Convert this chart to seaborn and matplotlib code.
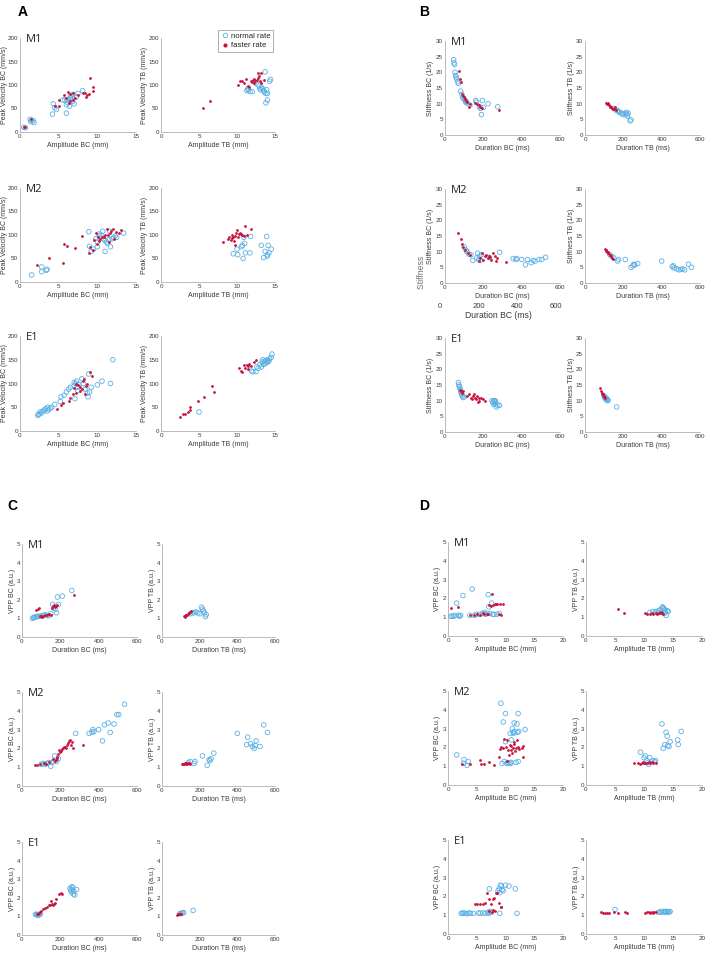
import matplotlib
matplotlib.use("Agg")
import matplotlib.pyplot as plt
from matplotlib.lines import Line2D
from matplotlib.transforms import Bbox, TransformedBbox
import seaborn as sns
import pandas as pd

# ---------------- data ----------------
# A: peak velocity vs amplitude
a_m1_bc_norm = [(0.5,10),(0.7,9),(1.3,27),(1.4,22),(1.5,25),(1.7,24),(1.8,20),(4.2,38),(4.3,60),(4.5,52),(4.7,48),(5.5,68),(5.8,68),(6.0,40),(6.0,58),(6.1,68),(6.3,70),(6.4,55),(6.5,72),(6.6,78),(6.8,65),(6.9,80),(7.0,60),(7.3,75),(7.5,82),(8.1,88),(6.2,62),(6.7,74)]
a_m1_bc_fast = [(0.6,11),(0.5,10),(1.4,28),(4.5,55),(5.0,68),(5.1,55),(5.7,78),(6.0,72),(6.2,85),(6.5,80),(6.5,65),(6.9,84),(7.1,72),(7.5,78),(8.2,84),(8.4,82),(8.6,78),(8.9,80),(9.0,114),(9.5,95),(9.5,88),(8.5,75),(6.8,68),(6.3,62)]
a_m1_tb_norm = [(11.3,88),(11.5,90),(11.7,86),(12.0,86),(12.8,100),(13.0,92),(13.1,90),(13.2,95),(13.4,92),(13.5,88),(13.6,85),(13.7,128),(13.8,82),(13.9,90),(13.8,62),(14.0,68),(14.0,82),(14.3,108),(14.4,112),(12.5,103),(11.4,92)]
a_m1_tb_fast = [(5.5,51),(6.5,67),(10.1,100),(10.4,108),(10.7,108),(10.9,105),(11.2,113),(11.5,98),(11.6,95),(11.9,108),(12.1,110),(12.2,105),(12.3,112),(12.6,110),(12.7,115),(12.8,126),(12.9,120),(13.1,126),(13.0,108),(13.2,104),(13.5,110),(12.0,106),(12.4,108)]
a_m2_bc_norm = [(1.5,15),(2.8,22),(2.8,32),(3.4,25),(3.5,27),(8.9,107),(9.0,76),(9.2,65),(9.5,70),(9.8,92),(10.0,85),(10.0,75),(10.3,98),(10.5,100),(10.7,108),(10.8,92),(11.0,65),(11.2,85),(11.3,82),(11.5,90),(11.6,108),(11.7,75),(11.9,92),(12.1,95),(12.3,98),(12.5,95),(13.4,104),(11.0,88),(10.2,102)]
a_m2_bc_fast = [(2.2,36),(3.8,52),(5.5,40),(5.7,80),(6.1,77),(7.1,72),(8.0,98),(8.9,62),(9.0,75),(9.5,68),(9.6,90),(9.8,105),(10.0,80),(10.2,88),(10.4,92),(10.6,96),(10.8,95),(11.0,100),(11.3,112),(11.4,100),(11.6,105),(11.8,108),(12.0,112),(12.4,107),(12.8,105),(13.1,110),(12.2,92),(11.5,85),(10.1,95)]
a_m2_tb_norm = [(9.5,60),(10.0,70),(10.1,58),(10.6,75),(10.7,78),(10.8,50),(10.9,95),(11.0,82),(11.1,62),(11.7,62),(11.8,97),(13.2,78),(13.5,52),(13.7,65),(13.9,97),(14.0,58),(14.1,78),(14.2,62),(14.5,70),(14.0,55)]
a_m2_tb_fast = [(8.2,85),(8.8,92),(9.0,95),(9.2,90),(9.4,100),(9.5,96),(9.6,88),(9.7,78),(9.8,98),(9.9,105),(10.0,110),(10.2,102),(10.4,104),(10.5,102),(10.7,100),(10.9,98),(11.1,120),(11.3,100),(11.8,112),(9.3,94),(10.1,96)]
a_e1_bc_norm = [(2.3,33),(2.5,36),(2.6,40),(2.8,38),(3.0,42),(3.2,44),(3.3,47),(3.6,50),(3.7,45),(3.9,48),(4.1,50),(4.5,56),(5.2,62),(5.3,72),(5.7,75),(6.0,82),(6.3,88),(6.5,92),(7.0,102),(7.0,95),(7.1,68),(7.2,100),(7.3,105),(7.4,92),(7.5,85),(8.0,110),(8.2,100),(8.4,88),(8.8,72),(8.9,120),(9.0,82),(9.2,92),(10.0,97),(10.6,105),(11.7,100),(12.0,150),(2.4,35),(3.5,42),(7.6,98),(8.7,80)]
a_e1_bc_fast = [(4.8,46),(5.3,55),(5.6,60),(6.3,63),(6.5,70),(6.8,78),(7.0,90),(7.3,80),(7.5,96),(7.7,92),(7.8,85),(8.0,88),(8.1,105),(8.3,110),(8.5,95),(8.7,100),(9.0,125),(9.3,115),(8.4,78),(7.2,98)]
a_e1_tb_norm = [(5.0,40),(11.9,126),(12.1,125),(12.5,125),(12.6,135),(12.8,132),(13.0,140),(13.2,135),(13.3,145),(13.4,150),(13.5,140),(13.6,147),(13.8,148),(13.9,144),(14.0,150),(14.1,146),(14.3,152),(14.5,155),(14.6,162),(13.7,142),(14.2,148)]
a_e1_tb_fast = [(2.5,30),(2.9,35),(3.1,35),(3.6,40),(3.8,45),(3.8,50),(4.9,64),(5.6,72),(6.7,95),(7.0,83),(10.2,132),(10.5,127),(10.7,125),(10.9,138),(11.1,132),(11.3,140),(11.4,130),(11.6,142),(11.8,137),(12.2,145),(12.5,150),(11.5,136)]

# B: stiffness vs duration
b_m1_bc_norm = [(45,24),(47,23),(50,22.5),(52,20),(55,19),(58,18.5),(60,18),(65,17),(70,16.5),(82,14),(88,13),(92,12),(95,11.8),(100,11.5),(105,11),(108,10.5),(110,10.8),(115,10.2),(130,9.5),(160,11),(165,10.5),(180,9),(185,8.5),(190,6.5),(195,11),(200,8.8),(225,10),(275,9)]
b_m1_bc_fast = [(73,20.5),(80,18),(85,17),(90,13),(95,12.5),(100,12),(105,11.5),(110,11),(115,10.5),(130,9.8),(155,10.3),(165,10),(175,9.5),(185,9),(195,8.5),(280,8),(125,9)]
b_m1_tb_norm = [(150,8.5),(160,8),(170,7.8),(175,7.5),(180,7.2),(190,7),(200,6.5),(210,6.8),(215,7.2),(220,6.5),(222,6),(225,7),(235,4.5),(240,4.8),(195,6.8)]
b_m1_tb_fast = [(110,10.3),(115,10),(120,9.8),(125,9.5),(130,9),(135,8.8),(140,8.5),(145,8.3),(150,8.2),(155,9),(160,8),(118,10.2),(128,9.3)]
b_m2_bc_norm = [(100,11.5),(110,10.5),(115,10),(125,9.2),(135,9),(145,7.2),(165,8),(170,9.5),(175,7.5),(180,8.5),(185,7.2),(190,9),(230,8.2),(285,9.8),(355,7.8),(370,7.5),(375,7.8),(400,7.5),(420,5.8),(430,7.5),(450,6.5),(470,7),(490,7.5),(505,7.5),(525,8.2),(460,7.2)]
b_m2_bc_fast = [(70,16),(82,14),(90,12.5),(95,11.5),(105,10.5),(120,9.5),(130,9),(175,7),(185,8),(195,9.5),(210,8.5),(215,9),(225,8),(230,8.5),(240,7.5),(250,9.5),(260,8.5),(265,7),(270,8),(320,6.8),(200,7.5),(235,8.2)]
b_m2_tb_norm = [(130,9),(140,8.5),(150,8),(170,7),(175,7.5),(210,7.5),(240,5),(250,5.5),(255,6),(260,5.8),(275,6.2),(400,7),(455,5.2),(460,5.5),(465,4.8),(480,4.5),(490,4.2),(500,4.3),(510,4.5),(520,4.2),(540,6),(555,5)]
b_m2_tb_fast = [(105,10.8),(108,10.5),(110,10.5),(112,10.2),(115,10),(118,9.8),(120,9.5),(125,9.2),(130,9),(135,8.5),(140,8),(145,7.8),(122,9.6),(132,8.8)]
b_e1_bc_norm = [(70,15.8),(72,15),(75,14.5),(78,14),(80,13.5),(82,13),(85,12.5),(88,12),(90,11.5),(95,11),(100,11.2),(245,10),(250,9.5),(255,10),(258,9.8),(260,9),(265,9.5),(268,8),(275,8.5),(285,8.5),(255,8.8),(262,10)]
b_e1_bc_fast = [(80,13.5),(85,13),(90,12.5),(95,13),(115,11.5),(125,12),(135,11),(145,11.5),(150,12),(155,11),(160,10.5),(165,11.5),(170,9.5),(175,10),(180,11),(190,11),(200,10.5),(210,10),(140,10.5)]
b_e1_tb_norm = [(100,11.5),(102,11),(105,11),(108,10.5),(110,10.8),(112,10.3),(115,10.5),(118,10),(120,10.2),(165,8)]
b_e1_tb_fast = [(80,14),(85,13),(88,12.5),(90,12.2),(92,12),(95,11.8),(98,11.5),(100,11.2),(103,11)]

# C: VPP vs duration
c_m1_bc_norm = [(55,1.0),(60,1.05),(65,1.05),(70,1.08),(75,1.1),(80,1.1),(90,1.12),(100,1.12),(110,1.15),(120,1.2),(130,1.15),(140,1.15),(150,1.25),(160,1.75),(165,1.55),(175,1.5),(180,1.3),(185,2.15),(190,1.75),(210,2.2),(260,2.5)]
c_m1_bc_fast = [(75,1.45),(85,1.5),(90,1.55),(95,1.15),(100,1.15),(110,1.15),(120,1.2),(130,1.2),(140,1.25),(150,1.2),(155,1.55),(160,1.65),(165,1.7),(170,1.6),(175,1.65),(185,1.7),(270,2.25),(105,1.1)]
c_m1_tb_norm = [(150,1.25),(160,1.3),(170,1.3),(180,1.35),(190,1.3),(200,1.25),(210,1.6),(215,1.5),(220,1.4),(230,1.1),(235,1.2),(225,1.3)]
c_m1_tb_fast = [(115,1.15),(120,1.15),(125,1.2),(130,1.2),(135,1.2),(140,1.25),(145,1.3),(150,1.35),(155,1.4),(120,1.1),(130,1.18)]
c_m2_bc_norm = [(100,1.15),(110,1.2),(120,1.15),(130,1.2),(140,1.25),(150,1.05),(155,1.25),(165,1.3),(170,1.6),(180,1.3),(190,1.45),(280,2.8),(350,2.8),(365,2.85),(370,3.0),(375,2.9),(400,3.0),(420,2.4),(430,3.25),(450,3.35),(460,2.85),(480,3.3),(495,3.8),(505,3.8),(535,4.35)]
c_m2_bc_fast = [(70,1.1),(80,1.1),(95,1.15),(115,1.2),(125,1.15),(140,1.3),(160,1.45),(170,1.35),(175,1.4),(180,1.5),(185,1.55),(190,1.7),(195,1.9),(200,1.8),(210,1.95),(215,2.0),(220,2.1),(230,2.0),(235,2.2),(240,2.3),(245,2.4),(250,2.45),(255,2.2),(260,2.35),(265,2.0),(320,2.2),(205,1.85),(225,2.05)]
c_m2_tb_norm = [(140,1.25),(150,1.3),(170,1.2),(175,1.3),(215,1.6),(240,1.1),(250,1.4),(255,1.35),(260,1.45),(275,1.75),(400,2.8),(450,2.2),(455,2.6),(470,2.25),(480,2.1),(490,2.0),(495,2.15),(500,2.4),(520,2.1),(540,3.25),(560,2.85)]
c_m2_tb_fast = [(105,1.15),(110,1.15),(115,1.18),(120,1.2),(125,1.15),(130,1.2),(135,1.15),(140,1.2),(145,1.22),(150,1.15)]
c_e1_bc_norm = [(70,1.1),(75,1.12),(78,1.08),(80,1.1),(85,1.05),(90,1.1),(95,1.12),(250,2.5),(255,2.4),(258,2.3),(260,2.6),(262,2.45),(265,2.55),(268,2.2),(270,2.35),(275,2.15),(285,2.45)]
c_e1_bc_fast = [(80,1.15),(85,1.15),(90,1.2),(95,1.25),(100,1.3),(110,1.4),(120,1.45),(130,1.5),(140,1.6),(145,1.6),(150,1.85),(155,1.65),(160,1.6),(165,1.65),(170,1.7),(175,1.95),(195,2.2),(205,2.25),(210,2.2)]
c_e1_tb_norm = [(95,1.15),(100,1.15),(105,1.18),(110,1.2),(115,1.2),(165,1.32)]
c_e1_tb_fast = [(80,1.1),(85,1.12),(90,1.12),(95,1.15),(100,1.15)]

# D: VPP vs amplitude
d_m1_bc_norm = [(0.5,1.05),(0.7,1.05),(1.0,1.05),(1.2,1.1),(1.5,1.75),(1.8,1.1),(2.0,1.05),(2.2,1.1),(2.6,2.15),(3.8,1.1),(4.2,2.5),(4.6,1.1),(5.0,1.15),(5.5,1.15),(6.0,1.2),(6.3,1.25),(6.5,1.15),(6.8,1.2),(7.0,2.2),(7.1,1.55),(7.3,1.2),(7.6,1.75),(7.8,1.15),(8.0,1.15),(8.5,1.15),(8.9,1.2)]
d_m1_bc_fast = [(0.5,1.5),(1.7,1.55),(3.9,1.1),(4.5,1.1),(5.0,1.15),(5.5,1.1),(6.0,1.25),(6.3,1.15),(6.7,1.15),(7.0,1.15),(7.2,1.65),(7.5,1.6),(7.6,2.25),(7.8,1.65),(8.2,1.7),(8.4,1.72),(8.6,1.7),(9.0,1.7),(9.5,1.7),(8.8,1.15),(9.3,1.1)]
d_m1_tb_norm = [(11.0,1.25),(11.5,1.3),(12.0,1.3),(12.3,1.25),(12.5,1.35),(12.8,1.4),(13.0,1.3),(13.2,1.55),(13.4,1.45),(13.5,1.2),(13.6,1.4),(13.7,1.3),(13.8,1.1),(14.0,1.35),(14.2,1.3),(13.3,1.5)]
d_m1_tb_fast = [(5.5,1.45),(6.5,1.2),(10.1,1.2),(10.5,1.15),(11.0,1.15),(11.3,1.2),(11.6,1.15),(12.0,1.2),(12.2,1.15),(12.5,1.2),(12.8,1.25),(13.1,1.2),(13.2,1.15),(12.9,1.3)]
d_m2_bc_norm = [(1.5,1.6),(2.7,1.15),(2.8,1.35),(3.3,1.05),(3.5,1.25),(9.2,4.35),(9.4,1.15),(9.6,3.35),(9.8,1.25),(10.0,3.8),(10.0,2.3),(10.2,1.15),(10.4,1.2),(10.6,1.15),(10.8,2.75),(11.0,2.4),(11.0,1.2),(11.2,3.0),(11.3,2.8),(11.5,3.3),(11.6,2.85),(11.8,1.2),(12.0,3.25),(12.1,2.8),(12.2,3.8),(12.3,2.85),(12.2,1.25),(13.4,2.95),(10.9,1.15),(11.4,2.75)]
d_m2_bc_fast = [(2.4,1.1),(3.8,1.1),(5.6,1.35),(5.8,1.1),(6.3,1.1),(7.2,1.25),(8.0,1.05),(8.9,1.5),(9.0,1.9),(9.3,2.0),(9.5,1.95),(9.8,2.45),(10.0,2.0),(10.2,2.4),(10.3,1.3),(10.5,1.85),(10.7,2.15),(10.9,1.85),(11.0,2.1),(11.2,1.7),(11.3,1.95),(11.5,2.2),(11.6,1.8),(11.8,1.95),(12.0,2.4),(12.2,2.0),(12.4,1.9),(12.8,1.95),(13.0,2.05),(13.1,1.5),(10.6,1.6),(11.4,2.3)]
d_m2_tb_norm = [(9.4,1.75),(10.0,1.45),(10.2,1.55),(10.5,1.3),(10.7,1.2),(10.8,1.1),(11.0,1.45),(11.5,1.3),(11.8,1.25),(12.0,1.3),(13.1,3.25),(13.3,1.95),(13.6,2.15),(13.8,2.8),(14.0,2.6),(14.1,2.1),(14.3,2.05),(14.5,2.3),(15.8,2.4),(15.9,2.15),(16.4,2.85)]
d_m2_tb_fast = [(8.2,1.15),(9.0,1.15),(9.3,1.12),(9.6,1.15),(9.8,1.2),(10.0,1.15),(10.2,1.18),(10.5,1.15),(10.8,1.2),(11.0,1.15),(11.3,1.2),(11.6,1.15),(12.0,1.15)]
d_e1_bc_norm = [(2.3,1.1),(2.5,1.1),(2.7,1.12),(3.0,1.1),(3.3,1.08),(3.6,1.12),(3.9,1.1),(4.4,1.1),(5.3,1.12),(5.6,1.1),(6.1,1.12),(6.5,1.1),(6.9,1.15),(7.2,2.4),(7.3,1.2),(7.5,1.15),(8.7,2.3),(8.9,2.4),(9.0,2.2),(9.1,2.6),(9.3,2.55),(9.4,2.35),(9.6,2.3),(10.0,2.6),(10.6,2.55),(11.7,2.4),(12.0,1.1),(9.0,1.1),(7.1,1.1)]
d_e1_bc_fast = [(4.7,1.6),(5.1,1.6),(5.5,1.6),(6.0,1.6),(6.5,1.65),(6.8,2.2),(7.1,1.85),(7.2,1.2),(7.5,1.6),(7.8,1.85),(8.0,1.9),(7.9,1.3),(8.2,1.25),(8.3,2.2),(8.5,2.2),(8.8,1.65),(9.2,1.45),(9.3,1.45),(7.6,1.15)]
d_e1_tb_norm = [(5.0,1.3),(12.5,1.15),(12.8,1.2),(13.0,1.15),(13.3,1.2),(13.5,1.18),(13.8,1.15),(14.0,1.2),(14.3,1.18),(14.5,1.2),(13.7,1.2),(14.2,1.15)]
d_e1_tb_fast = [(2.5,1.15),(2.9,1.12),(3.3,1.1),(3.7,1.1),(3.9,1.12),(4.8,1.15),(5.5,1.12),(6.7,1.15),(7.0,1.1),(10.2,1.1),(10.5,1.15),(10.8,1.15),(11.0,1.12),(11.3,1.15),(11.6,1.12),(12.0,1.15),(11.8,1.18)]

subjects = ["M1", "M2", "E1"]

BLUE = "#5cb0e4"
RED = "#c8143c"
TXT = "#3a3a3a"

sns.set_style("white")
plt.rcParams['font.family'] = ['Liberation Sans', 'DejaVu Sans']

W, H = 708, 956
fig = plt.figure(figsize=(W / 100, H / 100), dpi=100)


def box(x0, x1, top, bottom):
    return [x0 / W, 1 - bottom / H, (x1 - x0) / W, (bottom - top) / H]


def draw(ax, norm, fast, xlim, xticks, ylim, yticks, xlabel, ylabel, yoff, width):
    n = pd.DataFrame(norm, columns=["x", "y"])
    f = pd.DataFrame(fast, columns=["x", "y"])
    sns.scatterplot(data=n, x="x", y="y", ax=ax, marker="o", s=11,
                    facecolor="none", edgecolor=BLUE, linewidth=0.6)
    sns.scatterplot(data=f, x="x", y="y", ax=ax, marker="o", s=4,
                    color=RED, edgecolor=RED, linewidth=0)
    ax.set_xlim(*xlim)
    ax.set_ylim(*ylim)
    ax.set_xticks(xticks)
    ax.set_yticks(yticks)
    ax.set_xlabel(xlabel, fontsize=5, color=TXT, labelpad=2)
    ax.set_ylabel(ylabel, fontsize=5, color=TXT)
    # place the y label a fixed number of pixels left of the axis line
    ax.yaxis.set_label_coords(-(yoff - 3) / width, 0.5)
    ax.tick_params(direction="in", length=1.5, width=0.4, colors=TXT,
                   labelsize=4.5, pad=1.5)
    sns.despine(ax=ax)
    for s in ["left", "bottom"]:
        ax.spines[s].set_color("#a0a0a0")
        ax.spines[s].set_linewidth(0.5)


panels = {
    "A": dict(cols=[(20, 136), (161, 275)], rows=[(38, 132), (188, 282), (336, 431)],
              xlim=(0, 15), xticks=[0, 5, 10, 15], ylim=(0, 200), yticks=[0, 50, 100, 150, 200],
              xl=["Amplitude BC (mm)", "Amplitude TB (mm)"],
              yl=["Peak Velocity BC (mm/s)", "Peak Velocity TB (mm/s)"],
              yoff=[14.5, 16],
              data=[[a_m1_bc_norm, a_m1_bc_fast, a_m1_tb_norm, a_m1_tb_fast],
                    [a_m2_bc_norm, a_m2_bc_fast, a_m2_tb_norm, a_m2_tb_fast],
                    [a_e1_bc_norm, a_e1_bc_fast, a_e1_tb_norm, a_e1_tb_fast]],
              label=(18, 12)),
    "B": dict(cols=[(445, 560), (585, 700)], rows=[(41, 135), (189, 283), (338, 432)],
              xlim=(0, 600), xticks=[0, 200, 400, 600], ylim=(0, 30), yticks=[0, 5, 10, 15, 20, 25, 30],
              xl=["Duration BC (ms)", "Duration TB (ms)"],
              yl=["Stiffness BC (1/s)", "Stiffness TB (1/s)"],
              yoff=[14, 13],
              data=[[b_m1_bc_norm, b_m1_bc_fast, b_m1_tb_norm, b_m1_tb_fast],
                    [b_m2_bc_norm, b_m2_bc_fast, b_m2_tb_norm, b_m2_tb_fast],
                    [b_e1_bc_norm, b_e1_bc_fast, b_e1_tb_norm, b_e1_tb_fast]],
              label=(419, 12)),
    "C": dict(cols=[(22, 137), (162, 275)], rows=[(544, 637), (692, 786), (842, 935)],
              xlim=(0, 600), xticks=[0, 200, 400, 600], ylim=(0, 5), yticks=[0, 1, 2, 3, 4, 5],
              xl=["Duration BC (ms)", "Duration TB (ms)"],
              yl=["VPP BC (a.u.)", "VPP TB (a.u.)"],
              yoff=[9, 9],
              data=[[c_m1_bc_norm, c_m1_bc_fast, c_m1_tb_norm, c_m1_tb_fast],
                    [c_m2_bc_norm, c_m2_bc_fast, c_m2_tb_norm, c_m2_tb_fast],
                    [c_e1_bc_norm, c_e1_bc_fast, c_e1_tb_norm, c_e1_tb_fast]],
              label=(7, 506)),
    "D": dict(cols=[(448, 563), (586, 702)], rows=[(542, 636), (691, 785), (840, 934)],
              xlim=(0, 20), xticks=[0, 5, 10, 15, 20], ylim=(0, 5), yticks=[0, 1, 2, 3, 4, 5],
              xl=["Amplitude BC (mm)", "Amplitude TB (mm)"],
              yl=["VPP BC (a.u.)", "VPP TB (a.u.)"],
              yoff=[10, 9],
              data=[[d_m1_bc_norm, d_m1_bc_fast, d_m1_tb_norm, d_m1_tb_fast],
                    [d_m2_bc_norm, d_m2_bc_fast, d_m2_tb_norm, d_m2_tb_fast],
                    [d_e1_bc_norm, d_e1_bc_fast, d_e1_tb_norm, d_e1_tb_fast]],
              label=(419, 506)),
}

# leftover copy of an axis underneath panel B / M2 (present in the original figure)
ghost = fig.add_axes(box(440, 556, 213, 297), zorder=0)
ghost.set_xlim(0, 600)
ghost.set_xticks([0, 200, 400, 600])
ghost.set_yticks([])
ghost.patch.set_alpha(0)
for s in ghost.spines.values():
    s.set_visible(False)
ghost.tick_params(length=0, labelsize=5.5, colors=TXT, pad=4)
ghost.set_xlabel("Duration BC (ms)", fontsize=6.2, color=TXT, labelpad=1)
ghost.set_ylabel("Stiffness BC (1/s)", fontsize=6.2, color="#707070")
ghost.yaxis.set_label_coords(-(440 - 426) / 116, 0.5)
clip = TransformedBbox(Bbox([[0, 1 - 292 / H], [1, 1 - 254 / H]]), fig.transFigure)
ghost.yaxis.label.set_clip_box(clip)
ghost.yaxis.label.set_clip_on(True)

for key, p in panels.items():
    fig.text(p["label"][0] / W, 1 - p["label"][1] / H, key, fontsize=10,
             fontweight="bold", color="black", va="center", ha="left")
    for r, (top, bottom) in enumerate(p["rows"]):
        nb, fb, nt, ft = p["data"][r]
        for c, (x0, x1) in enumerate(p["cols"]):
            ax = fig.add_axes(box(x0, x1, top, bottom), zorder=2)
            if c == 0:
                draw(ax, nb, fb, p["xlim"], p["xticks"], p["ylim"], p["yticks"],
                     p["xl"][0], p["yl"][0], p["yoff"][0], x1 - x0)
                ax.text(0.05, 0.985, subjects[r], transform=ax.transAxes, fontsize=8,
                        family=["Open Sans", "DejaVu Sans"], color="#222222", va="center", ha="left")
            else:
                draw(ax, nt, ft, p["xlim"], p["xticks"], p["ylim"], p["yticks"],
                     p["xl"][1], p["yl"][1], p["yoff"][1], x1 - x0)

handles = [Line2D([], [], marker="o", linestyle="none", markersize=3.2,
                  markerfacecolor="none", markeredgecolor=BLUE, markeredgewidth=0.6),
           Line2D([], [], marker="o", linestyle="none", markersize=2,
                  markerfacecolor=RED, markeredgecolor=RED)]
leg = fig.legend(handles, ["normal rate", "faster rate"], loc="upper left",
                 bbox_to_anchor=(214 / W, 1 - 26 / H), fontsize=5.6, frameon=True,
                 fancybox=False, edgecolor="#8a8a8a", handletextpad=0.3,
                 handlelength=1.0, borderpad=0.35, labelspacing=0.25)
leg.get_frame().set_linewidth(0.6)

fig.savefig("out.png", dpi=100)
